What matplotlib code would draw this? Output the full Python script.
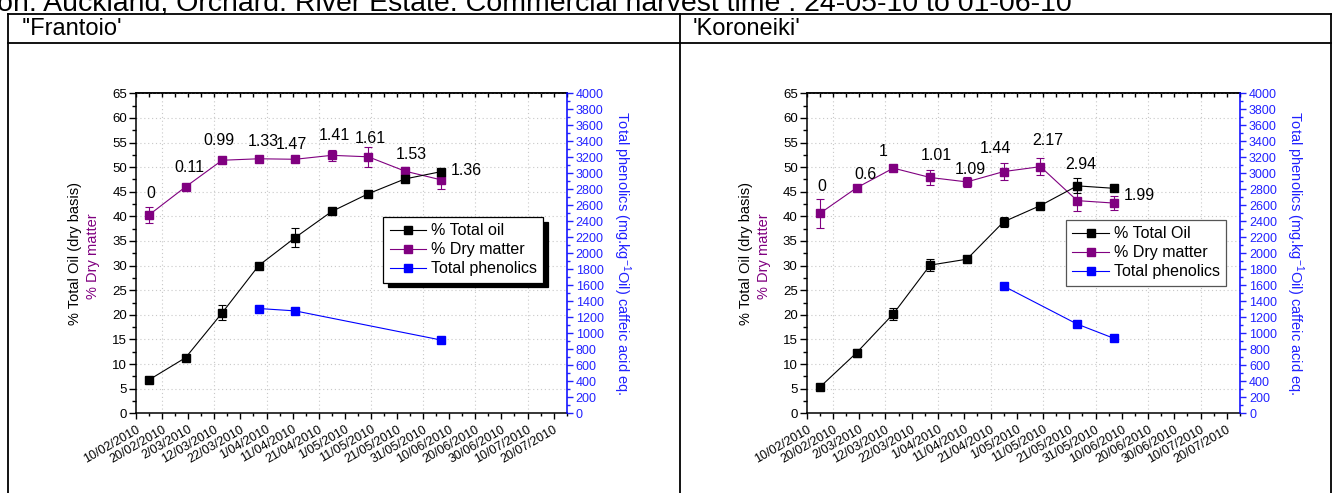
import matplotlib
matplotlib.use('Agg')
import matplotlib.pyplot as plt
import matplotlib.dates as mdates
from matplotlib.ticker import FixedLocator, MultipleLocator, NullFormatter
from matplotlib.lines import Line2D
import pandas as pd

plt.rcParams['font.family'] = ['Liberation Sans', 'DejaVu Sans']
plt.rcParams['mathtext.fontset'] = 'custom'
plt.rcParams['mathtext.rm'] = 'Liberation Sans'
plt.rcParams['mathtext.it'] = 'Liberation Sans:italic'

# ---------------- data ----------------
sample_dates = ['15/02/2010', '01/03/2010', '15/03/2010', '29/03/2010', '12/04/2010',
                '26/04/2010', '10/05/2010', '24/05/2010', '07/06/2010']

fr_oil = [6.8, 11.3, 20.4, 30.0, 35.7, 41.0, 44.6, 47.6, 49.1]
fr_oil_err = [0.3, 0.3, 1.5, 0.3, 1.9, 0.3, 0.4, 0.6, 0.5]
fr_dm = [40.3, 46.0, 51.4, 51.7, 51.6, 52.4, 52.1, 49.2, 47.4]
fr_dm_err = [1.6, 0.4, 0.4, 0.4, 0.4, 1.1, 2.0, 0.9, 1.8]
fr_ph_dates = ['29/03/2010', '12/04/2010', '07/06/2010']
fr_ph = [1310, 1280, 915]
fr_labels = ['0', '0.11', '0.99', '1.33', '1.47', '1.41', '1.61', '1.53', '1.36']

ko_oil = [5.3, 12.3, 20.2, 30.1, 31.3, 38.9, 42.2, 46.2, 45.7]
ko_oil_err = [0.3, 0.8, 1.2, 1.2, 0.3, 1.0, 0.5, 1.5, 0.3]
ko_dm = [40.6, 45.8, 49.8, 47.9, 47.0, 49.1, 50.1, 43.2, 42.7]
ko_dm_err = [3.0, 0.4, 0.4, 1.5, 1.0, 1.7, 1.7, 2.1, 1.5]
ko_ph_dates = ['26/04/2010', '24/05/2010', '07/06/2010']
ko_ph = [1590, 1115, 937]
ko_labels = ['0', '0.6', '1', '1.01', '1.09', '1.44', '2.17', '2.94', '1.99']

tick_start, tick_end, axis_end = '10/02/2010', '20/07/2010', '25/07/2010'

# ---------------- styling ----------------
W, H, DPI = 1337, 493, 100
PURPLE = '#800080'
BLUE = '#0000FF'
LBLUE = '#2222FF'
MS = 6

fr_offsets = [(2, 21), (4, 19), (-3, 20), (5, 17), (-4, 15), (3, 20), (2, 18), (6, 17), (9, 9)]
ko_offsets = [(2, 27), (9, 13), (-10, 17), (6, 22), (3, 12), (-8, 23), (7, 26), (4, 36), (10, 8)]

fig = plt.figure(figsize=(W / DPI, H / DPI), dpi=DPI)


def to_num(ds):
    return mdates.date2num(pd.to_datetime(ds, dayfirst=True))


def rect(x0, y0, x1, y1):
    return [x0 / W, 1 - y1 / H, (x1 - x0) / W, (y1 - y0) / H]


def panel(r, oil, oil_err, dm, dm_err, ph_dates, ph, labels, offsets, oil_label):
    ax = fig.add_axes(r)
    x = to_num(sample_dates)
    xp = to_num(ph_dates)
    majors = mdates.date2num(pd.date_range(pd.to_datetime(tick_start, dayfirst=True),
                                           pd.to_datetime(tick_end, dayfirst=True), freq='10D'))
    minors = mdates.date2num(pd.date_range(pd.to_datetime(tick_start, dayfirst=True),
                                           pd.to_datetime(axis_end, dayfirst=True), freq='5D'))
    x0 = to_num([tick_start])[0]
    x1 = to_num([axis_end])[0]

    # grid
    for g in majors[1::2]:
        ax.axvline(g, color='#c8c8c8', lw=0.8, ls=(0, (1, 2.5)), zorder=0)
    ax.yaxis.grid(True, color='#c8c8c8', lw=0.8, ls=(0, (1, 2.5)), zorder=0)

    ax.errorbar(x, dm, yerr=dm_err, color=PURPLE, lw=0.8, marker='s', ms=MS,
                capsize=3, elinewidth=0.8, capthick=0.8, zorder=3)
    ax.errorbar(x, oil, yerr=oil_err, color='black', lw=0.8, marker='s', ms=MS,
                capsize=3, elinewidth=0.8, capthick=0.8, zorder=4)

    for i, (lab, off) in enumerate(zip(labels, offsets)):
        last = i == len(labels) - 1
        ax.annotate(lab, xy=(x[i], dm[i]), xytext=off, textcoords='offset pixels',
                    ha='left' if last else 'center', va='center', fontsize=11.5, color='black',
                    zorder=6)

    ax.set_xlim(x0, x1)
    ax.set_ylim(0, 65)
    ax.yaxis.set_major_locator(MultipleLocator(5))
    ax.yaxis.set_minor_locator(MultipleLocator(2.5))
    ax.xaxis.set_major_locator(FixedLocator(majors))
    ax.xaxis.set_minor_locator(FixedLocator(minors))
    lbls = [f"{d.day}/{d.month:02d}/{d.year}" for d in mdates.num2date(majors)]
    ax.set_xticklabels(lbls, rotation=30, ha='right', rotation_mode='anchor', fontsize=9)
    ax.tick_params(axis='x', which='major', direction='out', length=4.3, width=1.0, pad=3)
    ax.tick_params(axis='x', which='minor', direction='out', length=2.5, width=1.0)
    ax.tick_params(axis='y', which='major', direction='out', length=5, width=1.0, pad=1.5,
                   labelsize=9.5)
    ax.tick_params(axis='y', which='minor', direction='out', length=3, width=1.0)
    for s in ['left', 'bottom', 'top']:
        ax.spines[s].set_linewidth(1.1)
    ax.spines['right'].set_visible(False)

    sec = ax.secondary_xaxis('top')
    sec.xaxis.set_major_locator(FixedLocator(majors))
    sec.xaxis.set_minor_locator(FixedLocator(minors))
    sec.xaxis.set_major_formatter(NullFormatter())
    sec.tick_params(axis='x', which='both', direction='in', length=3, width=1.0)
    sec.spines['top'].set_linewidth(1.1)

    ax.annotate('% Total Oil (dry basis)', xy=(0, 0.5), xycoords='axes fraction',
                xytext=(-61, 0), textcoords='offset pixels', rotation=90,
                ha='center', va='center', fontsize=10.5, color='black')
    ax.annotate('% Dry matter', xy=(0, 0.5), xycoords='axes fraction',
                xytext=(-43, -3), textcoords='offset pixels', rotation=90,
                ha='center', va='center', fontsize=10.5, color=PURPLE)

    ax2 = ax.twinx()
    ax2.plot(xp, ph, color=BLUE, lw=0.8, marker='s', ms=MS, zorder=3)
    ax2.set_ylim(0, 4000)
    ax2.yaxis.set_major_locator(MultipleLocator(200))
    ax2.yaxis.set_minor_locator(MultipleLocator(100))
    ax2.tick_params(axis='y', which='major', direction='out', length=4, width=1.0,
                    colors=LBLUE, labelsize=9, pad=2.5)
    ax2.tick_params(axis='y', which='minor', direction='out', length=2.5, width=1.0,
                    colors=LBLUE)
    for s in ['left', 'bottom', 'top']:
        ax2.spines[s].set_visible(False)
    ax2.spines['right'].set_color(BLUE)
    ax2.spines['right'].set_linewidth(1.1)
    ax2.annotate(r'Total phenolics (mg.kg$^{-1}$Oil) caffeic acid eq.', xy=(1, 0.5),
                 xycoords='axes fraction', xytext=(55, 0), textcoords='offset pixels',
                 rotation=-90, ha='center', va='center', fontsize=10.5, color=LBLUE)

    handles = [
        Line2D([], [], color='black', lw=0.8, marker='s', ms=MS),
        Line2D([], [], color=PURPLE, lw=0.8, marker='s', ms=MS),
        Line2D([], [], color=BLUE, lw=0.8, marker='s', ms=MS),
    ]
    names = [oil_label, '% Dry matter', 'Total phenolics']
    return ax, ax2, handles, names


LEG_KW = dict(loc='upper right', fontsize=11.5, frameon=True, fancybox=False, framealpha=1,
              handlelength=2.3, handletextpad=0.3, labelspacing=0.25, borderpad=0.4,
              borderaxespad=0)

axL, axL2, hL, nL = panel(rect(136, 93.3, 566.7, 413.3), fr_oil, fr_oil_err, fr_dm, fr_dm_err,
                          fr_ph_dates, fr_ph, fr_labels, fr_offsets, '% Total oil')
legL = axL2.legend(hL, nL, bbox_to_anchor=(0.946, 0.614), edgecolor='black',
                   shadow={'ox': 3.5, 'oy': -3.5, 'facecolor': 'black', 'edgecolor': 'black',
                           'alpha': 1}, **LEG_KW)
legL.get_frame().set_linewidth(0.9)

axR, axR2, hR, nR = panel(rect(806.7, 93.3, 1240, 413.3), ko_oil, ko_oil_err, ko_dm, ko_dm_err,
                          ko_ph_dates, ko_ph, ko_labels, ko_offsets, '% Total Oil')
legR = axR2.legend(hR, nR, bbox_to_anchor=(0.968, 0.604), edgecolor='#555555', **LEG_KW)
legR.get_frame().set_linewidth(0.9)

# ---------------- table frame & headers ----------------
def fline(xa, ya, xb, yb, lw=1.3):
    fig.add_artist(Line2D([xa / W, xb / W], [1 - ya / H, 1 - yb / H],
                          transform=fig.transFigure, color='black', lw=lw))

fline(8, 14, 1331, 14)
fline(8, 43, 1331, 43)
fline(8, 14, 8, 493)
fline(680, 14, 680, 493)
fline(1331, 14, 1331, 493)

fig.text(-3 / W, 1 - 11 / H,
         'on: Auckland, Orchard: River Estate. Commercial harvest time : 24-05-10 to 01-06-10',
         ha='left', va='baseline', fontsize=20.5, color='black')
fig.text(22 / W, 1 - 29 / H, "''Frantoio'", ha='left', va='center', fontsize=17)
fig.text(693 / W, 1 - 29 / H, "'Koroneiki'", ha='left', va='center', fontsize=17)

fig.savefig('out.png', dpi=DPI, facecolor='white')
